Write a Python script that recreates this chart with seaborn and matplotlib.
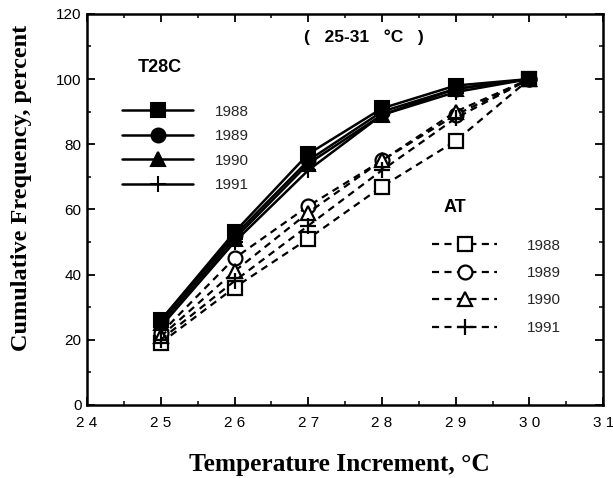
import matplotlib
matplotlib.use("Agg")
import matplotlib.pyplot as plt
from matplotlib.ticker import MultipleLocator
from matplotlib.lines import Line2D
import seaborn as sns
import pandas as pd

sns.set_theme(style="ticks")
plt.rcParams["font.family"] = ["Liberation Sans", "DejaVu Sans"]

temps = [25, 26, 27, 28, 29, 30]
years = ["1988", "1989", "1990", "1991"]

# T28C cumulative frequency (percent)
t28c_1988 = [26, 53, 77, 91, 98, 100]
t28c_1989 = [26, 52, 75, 90, 97, 100]
t28c_1990 = [25, 51, 74, 89, 97, 100]
t28c_1991 = [24, 50, 72, 89, 96, 100]

# AT cumulative frequency (percent)
at_1988 = [19, 36, 51, 67, 81, 100]
at_1989 = [22, 45, 61, 75, 89, 100]
at_1990 = [21, 41, 59, 75, 90, 100]
at_1991 = [20, 38, 55, 72, 88, 100]

x_ticks = [24, 25, 26, 27, 28, 29, 30, 31]
x_tick_labels = ["2 4", "2 5", "2 6", "2 7", "2 8", "2 9", "3 0", "3 1"]
y_ticks = [0, 20, 40, 60, 80, 100, 120]

markers = ["s", "o", "^", "+"]
dash = (0, (3.2, 2.4))

fig = plt.figure(figsize=(6.13, 4.78), dpi=100)
ax = fig.add_axes([0.142, 0.153, 0.842, 0.818])


def msize(m):
    return 11 if m == "+" else 10


t28c_handles = []
for vals, yr, m in zip([t28c_1988, t28c_1989, t28c_1990, t28c_1991], years, markers):
    df = pd.DataFrame({"temp": temps, "freq": vals})
    style = dict(color="black", linewidth=1.8, marker=m, markersize=msize(m),
                 markerfacecolor="black", markeredgecolor="black", markeredgewidth=1.5)
    sns.lineplot(data=df, x="temp", y="freq", ax=ax, zorder=3, **style)
    t28c_handles.append(Line2D([], [], label=yr, **style))

at_handles = []
for vals, yr, m in zip([at_1988, at_1989, at_1990, at_1991], years, markers):
    df = pd.DataFrame({"temp": temps, "freq": vals})
    style = dict(color="black", linewidth=1.6, linestyle=dash, marker=m,
                 markersize=msize(m), markerfacecolor="white",
                 markeredgecolor="black", markeredgewidth=1.6)
    sns.lineplot(data=df, x="temp", y="freq", ax=ax, zorder=2, **style)
    at_handles.append(Line2D([], [], label=yr, **style))

ax.set_xlim(24, 31)
ax.set_ylim(0, 120)
ax.set_xticks(x_ticks)
ax.set_xticklabels(x_tick_labels)
ax.set_yticks(y_ticks)
ax.xaxis.set_minor_locator(MultipleLocator(0.5))
ax.yaxis.set_minor_locator(MultipleLocator(10))
ax.tick_params(axis="both", which="both", direction="in", top=True, right=True,
               labelsize=11, color="black", labelcolor="black")
ax.tick_params(axis="x", pad=8)
ax.tick_params(axis="y", pad=4)
ax.tick_params(which="major", length=6, width=1.3)
ax.tick_params(which="minor", length=3, width=1.1)
for s in ax.spines.values():
    s.set_linewidth(1.8)
    s.set_color("black")

ax.set_xlabel("Temperature Increment, °C", family=["Liberation Serif", "DejaVu Serif"],
              fontsize=18.3, fontweight="bold", labelpad=17, color="black")
ax.set_ylabel("Cumulative Frequency, percent", family=["Liberation Serif", "DejaVu Serif"],
              fontsize=17.5, fontweight="bold", labelpad=8, color="black")
ax.xaxis.set_label_coords(0.488, -0.122)
ax.yaxis.set_label_coords(-0.106, 0.555)

ax.text(0.537, 0.939, "(   25-31   °C   )", transform=ax.transAxes, fontsize=12.5,
        fontweight="bold", ha="center", va="center", color="black")

ax.text(0.141, 0.864, "T28C", transform=ax.transAxes, fontsize=13,
        fontweight="bold", ha="center", va="center", color="black")
ax.text(0.713, 0.506, "AT", transform=ax.transAxes, fontsize=13,
        fontweight="bold", ha="center", va="center", color="black")

leg1 = ax.legend(handles=t28c_handles, loc="center left", bbox_to_anchor=(0.068, 0.656),
                 frameon=False, borderpad=0, borderaxespad=0, handlelength=4.64,
                 handletextpad=1.44, labelspacing=0.68, fontsize=11)
ax.add_artist(leg1)

leg2 = ax.legend(handles=at_handles, loc="center left", bbox_to_anchor=(0.669, 0.302),
                 frameon=False, borderpad=0, borderaxespad=0, handlelength=4.25,
                 handletextpad=1.96, labelspacing=0.876, fontsize=11)

fig.savefig("out.png", dpi=100)
